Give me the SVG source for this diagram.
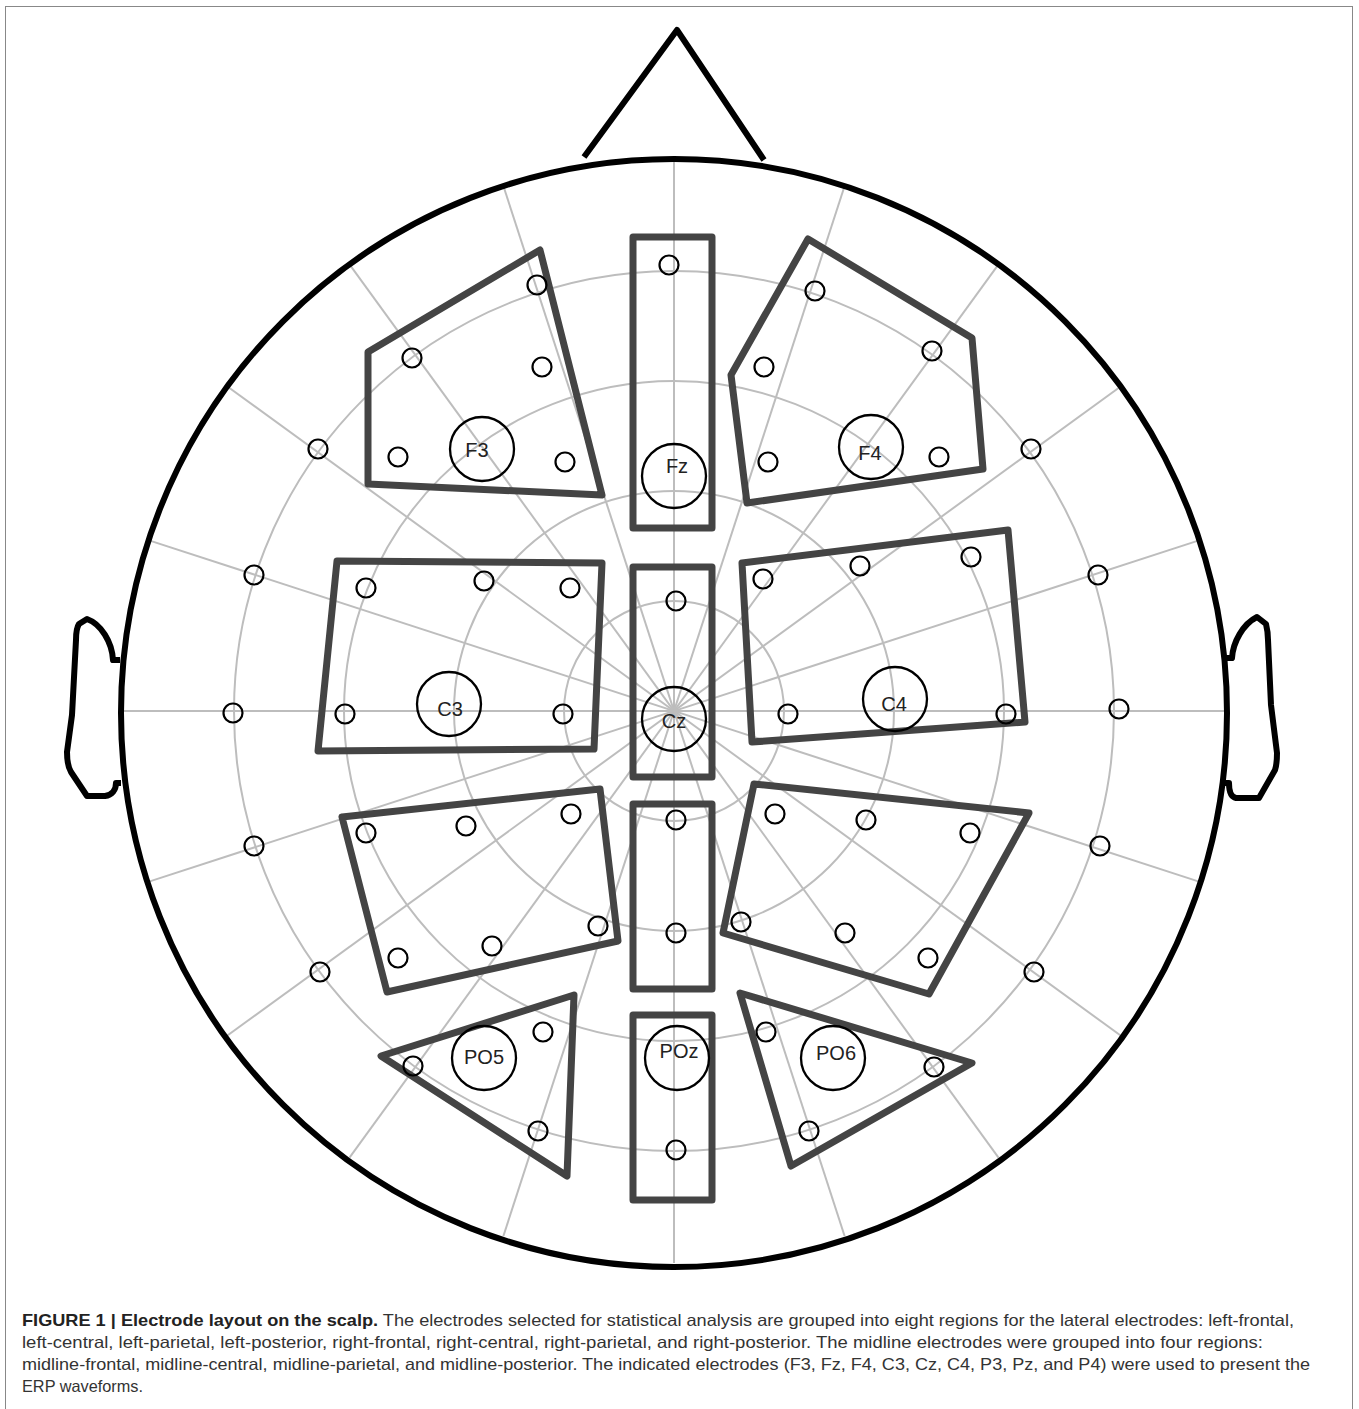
<svg xmlns="http://www.w3.org/2000/svg" width="1359" height="1409" viewBox="0 0 1359 1409">
<style>
.grid{fill:none;stroke:#bdbdbd;stroke-width:2}
.head{fill:none;stroke:#000;stroke-width:6}
.ear{fill:none;stroke:#000;stroke-width:6;stroke-linejoin:round}
.region{fill:none;stroke:#444;stroke-width:7;stroke-linejoin:round}
.el{fill:none;stroke:#000;stroke-width:2.2}
.big{fill:none;stroke:#000;stroke-width:2.3}
.lbl{font-family:"Liberation Sans",Arial,sans-serif;font-size:20px;fill:#222;text-anchor:middle}
.cap{font-family:"Liberation Sans Narrow","Liberation Sans",Arial,sans-serif;font-size:16.5px;fill:#333}
.capb{font-weight:bold;fill:#222}
</style>
<rect x="0" y="0" width="1359" height="1409" fill="#fff"/>
<rect x="5.5" y="6.5" width="1347" height="1420" fill="none" stroke="#888" stroke-width="1"/>

<g id="grid">
<circle class="grid" cx="674" cy="711" r="110"/>
<circle class="grid" cx="674" cy="711" r="220"/>
<circle class="grid" cx="674" cy="711" r="330"/>
<circle class="grid" cx="674" cy="711" r="440"/>
<line class="grid" x1="674" y1="159" x2="674" y2="1263"/>
<line class="grid" x1="122" y1="711" x2="1226" y2="711"/>
<line class="grid" x1="503.4" y1="186" x2="844.6" y2="1236"/>
<line class="grid" x1="844.6" y1="186" x2="503.4" y2="1236"/>
<line class="grid" x1="349.5" y1="264.4" x2="998.5" y2="1157.6"/>
<line class="grid" x1="998.5" y1="264.4" x2="349.5" y2="1157.6"/>
<line class="grid" x1="227.4" y1="386.5" x2="1120.6" y2="1035.5"/>
<line class="grid" x1="1120.6" y1="386.5" x2="227.4" y2="1035.5"/>
<line class="grid" x1="149" y1="540.4" x2="1199" y2="881.6"/>
<line class="grid" x1="1199" y1="540.4" x2="149" y2="881.6"/>
</g>

<g id="head">
<ellipse class="head" cx="674" cy="713" rx="553" ry="554"/>
</g>
<g id="nose">
<polyline class="head" points="584,157 677,30 764,160" stroke-linejoin="round"/>
</g>
<g id="left-ear">
<path class="ear" d="M120,660 L113,660 C112,642 101,624 87,619 L79,624 C77,627 76,632 76,640 L72,715 L67,752 C67,762 68,767 71,772 L87,796 L105,796 C112,795 116,790 116,783 L121,783"/>
</g>
<g id="right-ear">
<path class="ear" d="M1226,658 L1232,658 C1233,642 1243,624 1257,617 L1266,624 C1267,628 1268,632 1268,640 L1271,705 L1277,753 C1277,762 1276,767 1275,770 L1259,798 L1236,798 C1231,797 1229,792 1229,783 L1225,783"/>
</g>

<g id="regions">
<polygon id="left-frontal" class="region" points="368,352 540,250 602,495 368,484"/>
<path id="right-frontal" class="region" d="M808,239 L813,242 L972,338 L983,469 L747,503 L731,375 Z"/>
<rect id="midline-frontal" class="region" x="633" y="237" width="79" height="291"/>
<polygon id="left-central" class="region" points="337,561 602,563 594,749 318,751"/>
<rect id="midline-central" class="region" x="633" y="567" width="79" height="210"/>
<polygon id="right-central" class="region" points="742,563 1008,530 1025,722 752,742"/>
<polygon id="left-parietal" class="region" points="342,817 600,789 618,941 387,992"/>
<rect id="midline-parietal" class="region" x="633" y="804" width="79" height="185"/>
<polygon id="right-parietal" class="region" points="754,784 1029,813 929,994 723,933"/>
<polygon id="left-posterior" class="region" points="574,995 381,1056 567,1176"/>
<rect id="midline-posterior" class="region" x="633" y="1015" width="79" height="185"/>
<polygon id="right-posterior" class="region" points="740,993 972,1063 791,1166"/>
</g>

<g id="electrodes">
<circle class="el" cx="537" cy="285" r="9.5"/>
<circle class="el" cx="412" cy="358" r="9.5"/>
<circle class="el" cx="542" cy="367" r="9.5"/>
<circle class="el" cx="398" cy="457" r="9.5"/>
<circle class="el" cx="565" cy="462" r="9.5"/>
<circle class="el" cx="669" cy="265" r="9.5"/>
<circle class="el" cx="815" cy="291" r="9.5"/>
<circle class="el" cx="764" cy="367" r="9.5"/>
<circle class="el" cx="932" cy="351" r="9.5"/>
<circle class="el" cx="768" cy="462" r="9.5"/>
<circle class="el" cx="939" cy="457" r="9.5"/>
<circle class="el" cx="318" cy="449" r="9.5"/>
<circle class="el" cx="1031" cy="449" r="9.5"/>
<circle class="el" cx="254" cy="575" r="9.5"/>
<circle class="el" cx="1098" cy="575" r="9.5"/>
<circle class="el" cx="233" cy="713" r="9.5"/>
<circle class="el" cx="1119" cy="709" r="9.5"/>
<circle class="el" cx="254" cy="846" r="9.5"/>
<circle class="el" cx="1100" cy="846" r="9.5"/>
<circle class="el" cx="320" cy="972" r="9.5"/>
<circle class="el" cx="1034" cy="972" r="9.5"/>
<circle class="el" cx="366" cy="588" r="9.5"/>
<circle class="el" cx="484" cy="581" r="9.5"/>
<circle class="el" cx="570" cy="588" r="9.5"/>
<circle class="el" cx="345" cy="714" r="9.5"/>
<circle class="el" cx="563" cy="714" r="9.5"/>
<circle class="el" cx="676" cy="601" r="9.5"/>
<circle class="el" cx="763" cy="579" r="9.5"/>
<circle class="el" cx="860" cy="566" r="9.5"/>
<circle class="el" cx="971" cy="557" r="9.5"/>
<circle class="el" cx="788" cy="714" r="9.5"/>
<circle class="el" cx="1006" cy="714" r="9.5"/>
<circle class="el" cx="366" cy="833" r="9.5"/>
<circle class="el" cx="466" cy="826" r="9.5"/>
<circle class="el" cx="571" cy="814" r="9.5"/>
<circle class="el" cx="598" cy="926" r="9.5"/>
<circle class="el" cx="492" cy="946" r="9.5"/>
<circle class="el" cx="398" cy="958" r="9.5"/>
<circle class="el" cx="676" cy="820" r="9.5"/>
<circle class="el" cx="676" cy="933" r="9.5"/>
<circle class="el" cx="775" cy="814" r="9.5"/>
<circle class="el" cx="866" cy="820" r="9.5"/>
<circle class="el" cx="970" cy="833" r="9.5"/>
<circle class="el" cx="741" cy="922" r="9.5"/>
<circle class="el" cx="845" cy="933" r="9.5"/>
<circle class="el" cx="928" cy="958" r="9.5"/>
<circle class="el" cx="543" cy="1032" r="9.5"/>
<circle class="el" cx="413" cy="1066" r="9.5"/>
<circle class="el" cx="538" cy="1131" r="9.5"/>
<circle class="el" cx="676" cy="1150" r="9.5"/>
<circle class="el" cx="766" cy="1032" r="9.5"/>
<circle class="el" cx="934" cy="1067" r="9.5"/>
<circle class="el" cx="809" cy="1131" r="9.5"/>
</g>

<g id="F3"><circle class="big" cx="482" cy="449" r="32"/><text class="lbl" x="477" y="457">F3</text></g>
<g id="Fz"><circle class="big" cx="674" cy="476" r="32"/><text class="lbl" x="677" y="473">Fz</text></g>
<g id="F4"><circle class="big" cx="871" cy="447" r="32"/><text class="lbl" x="870" y="460">F4</text></g>
<g id="C3"><circle class="big" cx="449" cy="704" r="32"/><text class="lbl" x="450" y="716">C3</text></g>
<g id="Cz"><circle class="big" cx="674" cy="719" r="32"/><text class="lbl" x="674" y="728">Cz</text></g>
<g id="C4"><circle class="big" cx="895" cy="699" r="32"/><text class="lbl" x="894" y="711">C4</text></g>
<g id="PO5"><circle class="big" cx="484" cy="1058" r="32"/><text class="lbl" x="484" y="1064">PO5</text></g>
<g id="POz"><circle class="big" cx="677" cy="1058" r="32"/><text class="lbl" x="679" y="1058">POz</text></g>
<g id="PO6"><circle class="big" cx="833" cy="1058" r="32"/><text class="lbl" x="836" y="1060">PO6</text></g>

<g id="caption">
<text class="cap" x="22" y="1326" textLength="1272" lengthAdjust="spacingAndGlyphs"><tspan class="capb">FIGURE 1 | Electrode layout on the scalp.</tspan> The electrodes selected for statistical analysis are grouped into eight regions for the lateral electrodes: left-frontal,</text>
<text class="cap" x="22" y="1348" textLength="1241" lengthAdjust="spacingAndGlyphs">left-central, left-parietal, left-posterior, right-frontal, right-central, right-parietal, and right-posterior. The midline electrodes were grouped into four regions:</text>
<text class="cap" x="22" y="1370" textLength="1288" lengthAdjust="spacingAndGlyphs">midline-frontal, midline-central, midline-parietal, and midline-posterior. The indicated electrodes (F3, Fz, F4, C3, Cz, C4, P3, Pz, and P4) were used to present the</text>
<text class="cap" x="22" y="1392" textLength="121" lengthAdjust="spacingAndGlyphs">ERP waveforms.</text>
</g>
</svg>
